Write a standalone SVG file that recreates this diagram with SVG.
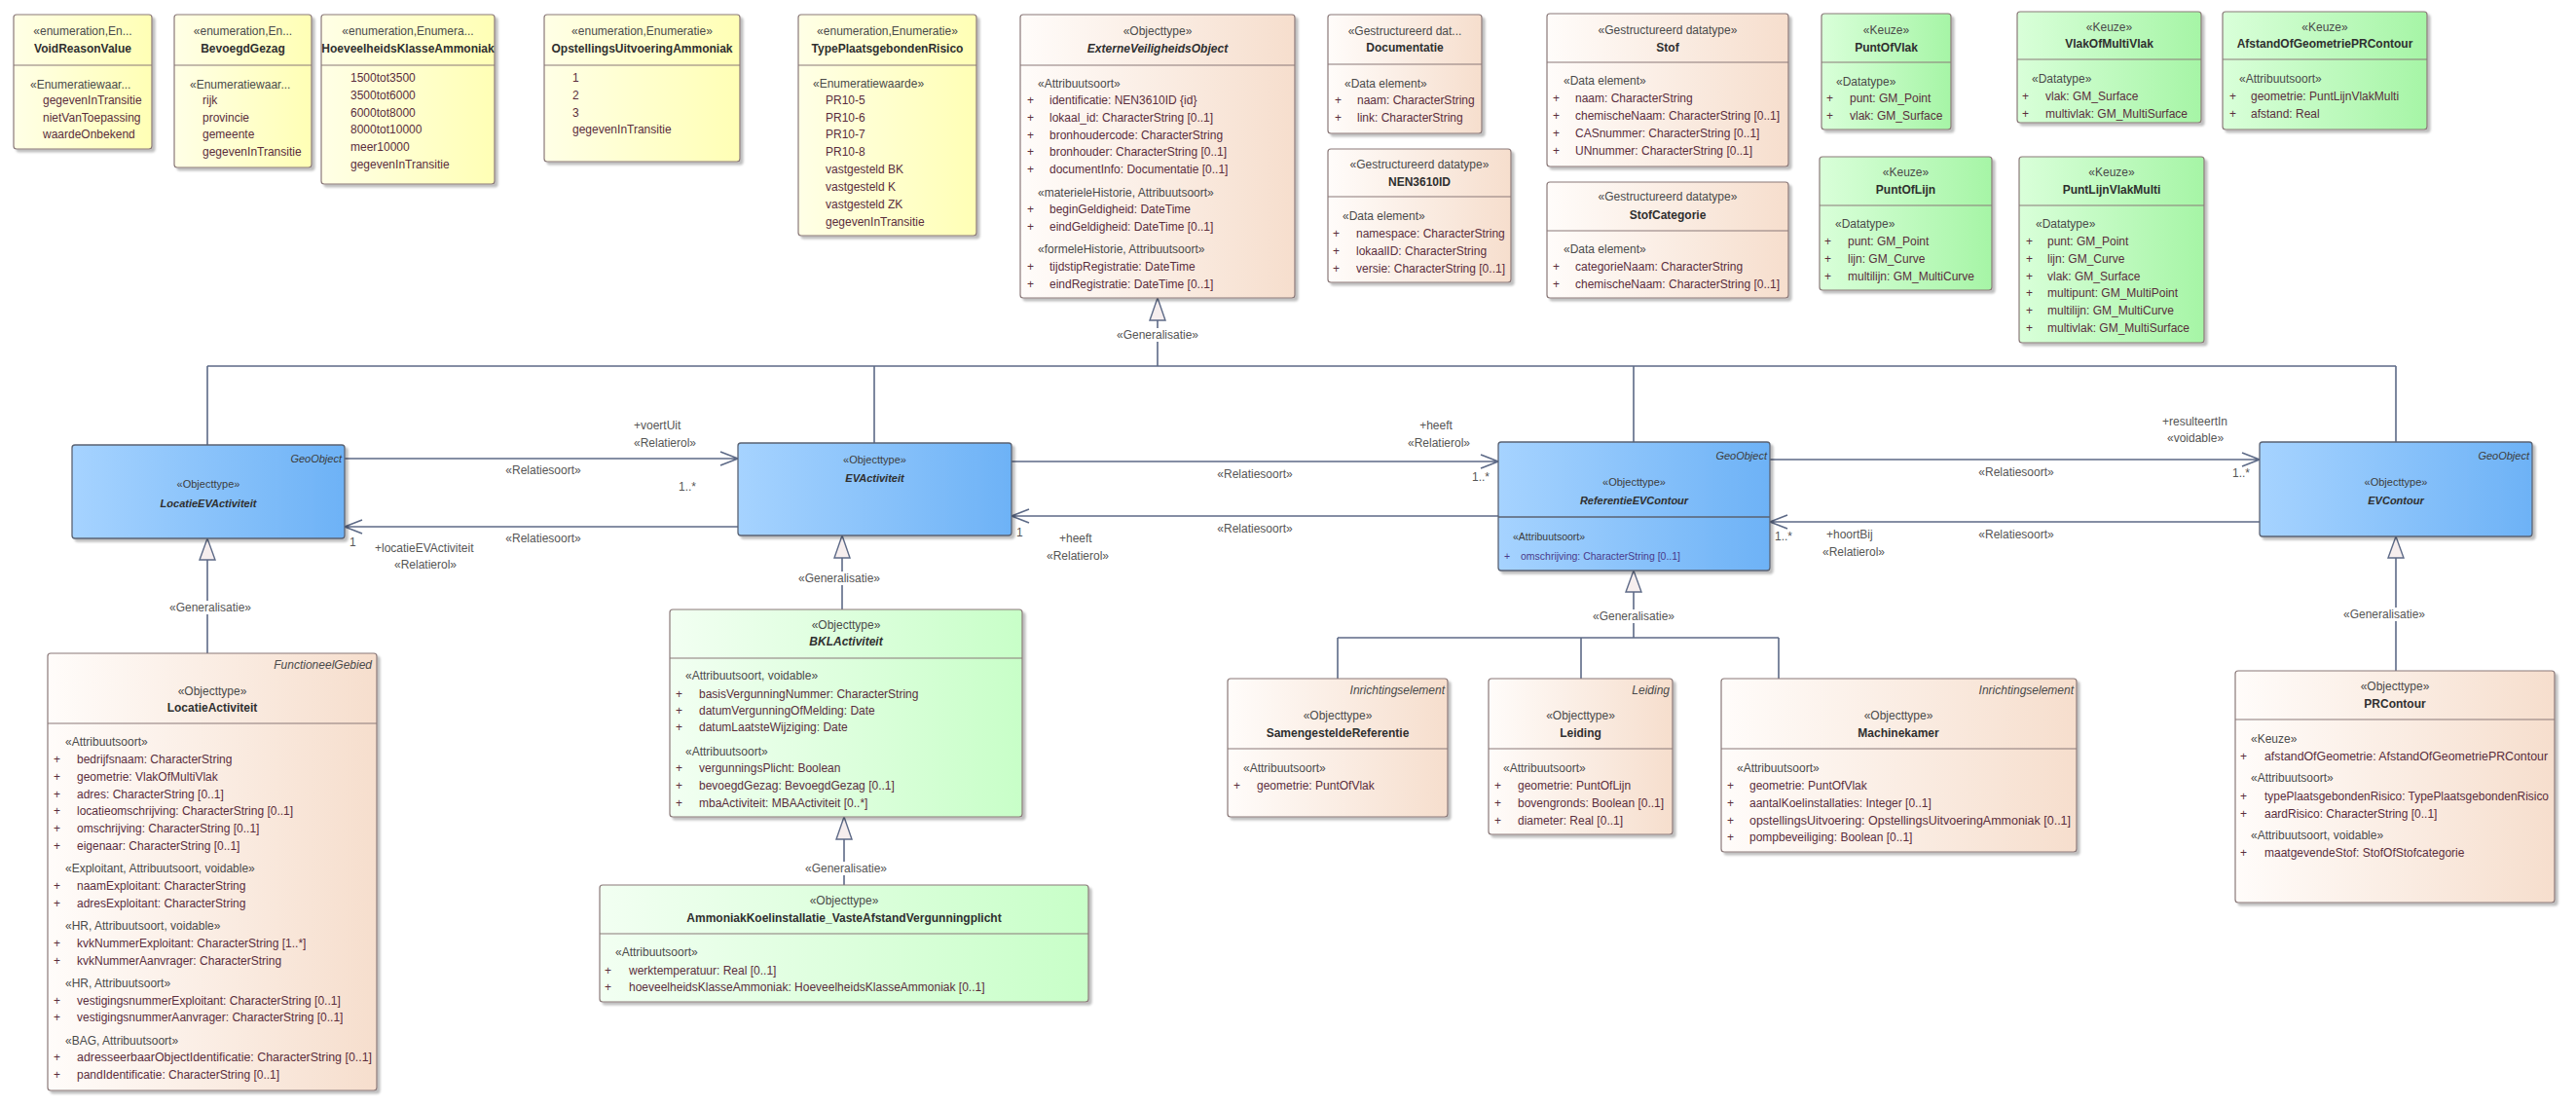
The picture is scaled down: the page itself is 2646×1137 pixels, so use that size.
<svg xmlns="http://www.w3.org/2000/svg" width="2646" height="1137" viewBox="0 0 2646 1137">
<defs>
<style>
text{font-family:'Liberation Sans',Arial,sans-serif;font-size:12px;fill:#3c3c3c}
.st{fill:#4a4a4a}
.nm{font-weight:bold;fill:#2f2f2f}
.it{font-style:italic}
.c{text-anchor:middle}
.r{text-anchor:end}
.at{fill:#5a2d3c}
.bs{font-size:11px}
.om{fill:#4a3a8a;font-size:10.5px}
.box{stroke:#8a7878;stroke-width:1.2;filter:url(#sh)}
.bbox{stroke:#5a6272;stroke-width:1.3;filter:url(#sh)}
.sep{stroke:#8a7878;stroke-width:1.2}
.bsep{stroke:#5a6272;stroke-width:1.3}
.ln{stroke:#5d6a87;stroke-width:1.6;fill:none}
.gt{fill:#f6eeee;stroke:#5d6a87;stroke-width:1.4}
.lb{font-size:12px;fill:#555}
.bg{fill:#fff}
</style>
<filter id="sh" x="-5%" y="-5%" width="115%" height="115%"><feDropShadow dx="3" dy="3" stdDeviation="1.2" flood-color="#000" flood-opacity="0.25"/></filter>
<linearGradient id="yl" x1="0" x2="1" y1="0" y2="0"><stop offset="0" stop-color="#FFFFE6"/><stop offset="1" stop-color="#FFFFB5"/></linearGradient>
<linearGradient id="pc" x1="0" x2="1" y1="0" y2="0"><stop offset="0" stop-color="#FFFCFA"/><stop offset="1" stop-color="#F6DECD"/></linearGradient>
<linearGradient id="gr" x1="0" x2="1" y1="0" y2="0"><stop offset="0" stop-color="#D9FFD9"/><stop offset="1" stop-color="#A6F5A6"/></linearGradient>
<linearGradient id="lg" x1="0" x2="1" y1="0" y2="0"><stop offset="0" stop-color="#F2FFF2"/><stop offset="1" stop-color="#C8FFC8"/></linearGradient>
<linearGradient id="bl" x1="0" x2="1" y1="0" y2="0"><stop offset="0" stop-color="#A6D3FF"/><stop offset="1" stop-color="#6DB2F6"/></linearGradient>
</defs>
<rect width="2646" height="1137" fill="#fff"/>

<g id="connectors">
<path class="ln" d="M213,376 H2461 M213,376 V457 M898,376 V455 M1678,376 V454 M2461,376 V454 M1189,329 V376"/>
<polygon class="gt" points="1189,306 1181,329 1197,329"/>
<rect class="bg" x="1145" y="337" width="88" height="14"/>
<text class="lb c" x="1189" y="348">«Generalisatie»</text>
<path class="ln" d="M213,575 V671"/>
<polygon class="gt" points="213,553 205,575 221,575"/>
<rect class="bg" x="172" y="617" width="88" height="14"/>
<text class="lb c" x="216" y="628">«Generalisatie»</text>
<path class="ln" d="M865,573 V626"/>
<polygon class="gt" points="865,550 857,573 873,573"/>
<rect class="bg" x="818" y="587" width="88" height="14"/>
<text class="lb c" x="862" y="598">«Generalisatie»</text>
<path class="ln" d="M867,862 V909"/>
<polygon class="gt" points="867,839 859,862 875,862"/>
<rect class="bg" x="825" y="885" width="88" height="14"/>
<text class="lb c" x="869" y="896">«Generalisatie»</text>
<path class="ln" d="M1678,608 V655 M1374,655 H1827 M1374,655 V697 M1624,655 V697 M1827,655 V697"/>
<polygon class="gt" points="1678,586 1670,608 1686,608"/>
<rect class="bg" x="1634" y="626" width="88" height="14"/>
<text class="lb c" x="1678" y="637">«Generalisatie»</text>
<path class="ln" d="M2461,573 V689"/>
<polygon class="gt" points="2461,551 2453,573 2469,573"/>
<rect class="bg" x="2405" y="624" width="88" height="14"/>
<text class="lb c" x="2449" y="635">«Generalisatie»</text>

<path class="ln" d="M354,471 H758 M740,464 L758,471 L740,478"/>
<text class="lb" x="651" y="441">+voertUit</text>
<text class="lb" x="651" y="459">«Relatierol»</text>
<text class="lb c" x="558" y="487">«Relatiesoort»</text>
<text class="lb" x="697" y="504">1..*</text>

<path class="ln" d="M758,541 H354 M372,534 L354,541 L372,548"/>
<text class="lb c" x="558" y="557">«Relatiesoort»</text>
<text class="lb" x="359" y="561">1</text>
<text class="lb" x="385" y="567">+locatieEVActiviteit</text>
<text class="lb c" x="437" y="584">«Relatierol»</text>

<path class="ln" d="M1039,474 H1539 M1521,467 L1539,474 L1521,481"/>
<text class="lb c" x="1475" y="441">+heeft</text>
<text class="lb c" x="1478" y="459">«Relatierol»</text>
<text class="lb c" x="1289" y="491">«Relatiesoort»</text>
<text class="lb" x="1512" y="494">1..*</text>

<path class="ln" d="M1539,530 H1039 M1057,523 L1039,530 L1057,537"/>
<text class="lb c" x="1289" y="547">«Relatiesoort»</text>
<text class="lb" x="1044" y="551">1</text>
<text class="lb" x="1088" y="557">+heeft</text>
<text class="lb c" x="1107" y="575">«Relatierol»</text>

<path class="ln" d="M1818,472 H2321 M2303,465 L2321,472 L2303,479"/>
<text class="lb" x="2221" y="437">+resulteertIn</text>
<text class="lb" x="2226" y="454">«voidable»</text>
<text class="lb c" x="2071" y="489">«Relatiesoort»</text>
<text class="lb" x="2293" y="490">1..*</text>

<path class="ln" d="M2321,536 H1818 M1836,529 L1818,536 L1836,543"/>
<text class="lb" x="1823" y="555">1..*</text>
<text class="lb" x="1876" y="553">+hoortBij</text>
<text class="lb c" x="1904" y="571">«Relatierol»</text>
<text class="lb c" x="2071" y="553">«Relatiesoort»</text>
</g>

<g id="VoidReasonValue">
<rect class="box" x="14" y="15" width="142" height="138" rx="3" fill="url(#yl)"/>
<line class="sep" x1="14" y1="67" x2="156" y2="67"/>
<text class="st c" x="85" y="36">«enumeration,En...</text>
<text class="nm c" x="85" y="54">VoidReasonValue</text>
<text class="st" x="31" y="91">«Enumeratiewaar...</text>
<text class="at" x="44" y="107">gegevenInTransitie</text>
<text class="at" x="44" y="125">nietVanToepassing</text>
<text class="at" x="44" y="142">waardeOnbekend</text>
</g>
<g id="BevoegdGezag">
<rect class="box" x="179" y="15" width="141" height="157" rx="3" fill="url(#yl)"/>
<line class="sep" x1="179" y1="67" x2="320" y2="67"/>
<text class="st c" x="249.5" y="36">«enumeration,En...</text>
<text class="nm c" x="249.5" y="54">BevoegdGezag</text>
<text class="st" x="195" y="91">«Enumeratiewaar...</text>
<text class="at" x="208" y="107">rijk</text>
<text class="at" x="208" y="125">provincie</text>
<text class="at" x="208" y="142">gemeente</text>
<text class="at" x="208" y="160">gegevenInTransitie</text>
</g>
<g id="HoeveelheidsKlasseAmmoniak">
<rect class="box" x="330" y="15" width="178" height="174" rx="3" fill="url(#yl)"/>
<line class="sep" x1="330" y1="67" x2="508" y2="67"/>
<text class="st c" x="419" y="36">«enumeration,Enumera...</text>
<text class="nm c" x="419" y="54">HoeveelheidsKlasseAmmoniak</text>
<text class="at" x="360" y="84">1500tot3500</text>
<text class="at" x="360" y="102">3500tot6000</text>
<text class="at" x="360" y="120">6000tot8000</text>
<text class="at" x="360" y="137">8000tot10000</text>
<text class="at" x="360" y="155">meer10000</text>
<text class="at" x="360" y="173">gegevenInTransitie</text>
</g>
<g id="OpstellingsUitvoeringAmmoniak">
<rect class="box" x="559" y="15" width="201" height="151" rx="3" fill="url(#yl)"/>
<line class="sep" x1="559" y1="67" x2="760" y2="67"/>
<text class="st c" x="659.5" y="36">«enumeration,Enumeratie»</text>
<text class="nm c" x="659.5" y="54">OpstellingsUitvoeringAmmoniak</text>
<text class="at" x="588" y="84">1</text>
<text class="at" x="588" y="102">2</text>
<text class="at" x="588" y="120">3</text>
<text class="at" x="588" y="137">gegevenInTransitie</text>
</g>
<g id="TypePlaatsgebondenRisico">
<rect class="box" x="820" y="15" width="183" height="227" rx="3" fill="url(#yl)"/>
<line class="sep" x1="820" y1="67" x2="1003" y2="67"/>
<text class="st c" x="911.5" y="36">«enumeration,Enumeratie»</text>
<text class="nm c" x="911.5" y="54">TypePlaatsgebondenRisico</text>
<text class="st" x="835" y="90">«Enumeratiewaarde»</text>
<text class="at" x="848" y="107">PR10-5</text>
<text class="at" x="848" y="125">PR10-6</text>
<text class="at" x="848" y="142">PR10-7</text>
<text class="at" x="848" y="160">PR10-8</text>
<text class="at" x="848" y="178">vastgesteld BK</text>
<text class="at" x="848" y="196">vastgesteld K</text>
<text class="at" x="848" y="214">vastgesteld ZK</text>
<text class="at" x="848" y="232">gegevenInTransitie</text>
</g>

<g id="ExterneVeiligheidsObject">
<rect class="box" x="1048" y="15" width="282" height="291" rx="3" fill="url(#pc)"/>
<line class="sep" x1="1048" y1="67" x2="1330" y2="67"/>
<text class="st c" x="1189" y="36">«Objecttype»</text>
<text class="nm it c" x="1189" y="54">ExterneVeiligheidsObject</text>
<text class="st" x="1066" y="90">«Attribuutsoort»</text>
<text class="at" x="1055" y="107">+</text><text class="at" x="1078" y="107">identificatie: NEN3610ID {id}</text>
<text class="at" x="1055" y="125">+</text><text class="at" x="1078" y="125">lokaal_id: CharacterString [0..1]</text>
<text class="at" x="1055" y="143">+</text><text class="at" x="1078" y="143">bronhoudercode: CharacterString</text>
<text class="at" x="1055" y="160">+</text><text class="at" x="1078" y="160">bronhouder: CharacterString [0..1]</text>
<text class="at" x="1055" y="178">+</text><text class="at" x="1078" y="178">documentInfo: Documentatie [0..1]</text>
<text class="st" x="1066" y="202">«materieleHistorie, Attribuutsoort»</text>
<text class="at" x="1055" y="219">+</text><text class="at" x="1078" y="219">beginGeldigheid: DateTime</text>
<text class="at" x="1055" y="237">+</text><text class="at" x="1078" y="237">eindGeldigheid: DateTime [0..1]</text>
<text class="st" x="1066" y="260">«formeleHistorie, Attribuutsoort»</text>
<text class="at" x="1055" y="278">+</text><text class="at" x="1078" y="278">tijdstipRegistratie: DateTime</text>
<text class="at" x="1055" y="296">+</text><text class="at" x="1078" y="296">eindRegistratie: DateTime [0..1]</text>
</g>

<g id="Documentatie">
<rect class="box" x="1364" y="15" width="158" height="122" rx="3" fill="url(#pc)"/>
<line class="sep" x1="1364" y1="66" x2="1522" y2="66"/>
<text class="st c" x="1443" y="36">«Gestructureerd dat...</text>
<text class="nm c" x="1443" y="53">Documentatie</text>
<text class="st" x="1381" y="90">«Data element»</text>
<text class="at" x="1371" y="107">+</text><text class="at" x="1394" y="107">naam: CharacterString</text>
<text class="at" x="1371" y="125">+</text><text class="at" x="1394" y="125">link: CharacterString</text>
</g>
<g id="NEN3610ID">
<rect class="box" x="1364" y="153" width="188" height="137" rx="3" fill="url(#pc)"/>
<line class="sep" x1="1364" y1="202" x2="1552" y2="202"/>
<text class="st c" x="1458" y="173">«Gestructureerd datatype»</text>
<text class="nm c" x="1458" y="191">NEN3610ID</text>
<text class="st" x="1379" y="226">«Data element»</text>
<text class="at" x="1369" y="244">+</text><text class="at" x="1393" y="244">namespace: CharacterString</text>
<text class="at" x="1369" y="262">+</text><text class="at" x="1393" y="262">lokaalID: CharacterString</text>
<text class="at" x="1369" y="280">+</text><text class="at" x="1393" y="280" textLength="153" lengthAdjust="spacingAndGlyphs">versie: CharacterString [0..1]</text>
</g>
<g id="Stof">
<rect class="box" x="1589" y="14" width="248" height="157" rx="3" fill="url(#pc)"/>
<line class="sep" x1="1589" y1="64" x2="1837" y2="64"/>
<text class="st c" x="1713" y="35">«Gestructureerd datatype»</text>
<text class="nm c" x="1713" y="53">Stof</text>
<text class="st" x="1606" y="87">«Data element»</text>
<text class="at" x="1595" y="105">+</text><text class="at" x="1618" y="105">naam: CharacterString</text>
<text class="at" x="1595" y="123">+</text><text class="at" x="1618" y="123">chemischeNaam: CharacterString [0..1]</text>
<text class="at" x="1595" y="141">+</text><text class="at" x="1618" y="141">CASnummer: CharacterString [0..1]</text>
<text class="at" x="1595" y="159">+</text><text class="at" x="1618" y="159">UNnummer: CharacterString [0..1]</text>
</g>
<g id="StofCategorie">
<rect class="box" x="1589" y="187" width="248" height="119" rx="3" fill="url(#pc)"/>
<line class="sep" x1="1589" y1="237" x2="1837" y2="237"/>
<text class="st c" x="1713" y="206">«Gestructureerd datatype»</text>
<text class="nm c" x="1713" y="225">StofCategorie</text>
<text class="st" x="1606" y="260">«Data element»</text>
<text class="at" x="1595" y="278">+</text><text class="at" x="1618" y="278">categorieNaam: CharacterString</text>
<text class="at" x="1595" y="296">+</text><text class="at" x="1618" y="296">chemischeNaam: CharacterString [0..1]</text>
</g>

<g id="PuntOfVlak">
<rect class="box" x="1871" y="14" width="133" height="119" rx="3" fill="url(#gr)"/>
<line class="sep" x1="1871" y1="64" x2="2004" y2="64"/>
<text class="st c" x="1937.5" y="35">«Keuze»</text>
<text class="nm c" x="1937.5" y="53">PuntOfVlak</text>
<text class="st" x="1886" y="88">«Datatype»</text>
<text class="at" x="1876" y="105">+</text><text class="at" x="1900" y="105">punt: GM_Point</text>
<text class="at" x="1876" y="123">+</text><text class="at" x="1900" y="123">vlak: GM_Surface</text>
</g>
<g id="VlakOfMultiVlak">
<rect class="box" x="2072" y="12" width="189" height="114" rx="3" fill="url(#gr)"/>
<line class="sep" x1="2072" y1="61" x2="2261" y2="61"/>
<text class="st c" x="2166.5" y="32">«Keuze»</text>
<text class="nm c" x="2166.5" y="49">VlakOfMultiVlak</text>
<text class="st" x="2087" y="85">«Datatype»</text>
<text class="at" x="2077" y="103">+</text><text class="at" x="2101" y="103">vlak: GM_Surface</text>
<text class="at" x="2077" y="121">+</text><text class="at" x="2101" y="121">multivlak: GM_MultiSurface</text>
</g>
<g id="AfstandOfGeometriePRContour">
<rect class="box" x="2283" y="12" width="210" height="121" rx="3" fill="url(#gr)"/>
<line class="sep" x1="2283" y1="61" x2="2493" y2="61"/>
<text class="st c" x="2388" y="32">«Keuze»</text>
<text class="nm c" x="2388" y="49">AfstandOfGeometriePRContour</text>
<text class="st" x="2300" y="85">«Attribuutsoort»</text>
<text class="at" x="2290" y="103">+</text><text class="at" x="2312" y="103">geometrie: PuntLijnVlakMulti</text>
<text class="at" x="2290" y="121">+</text><text class="at" x="2312" y="121">afstand: Real</text>
</g>
<g id="PuntOfLijn">
<rect class="box" x="1869" y="161" width="177" height="137" rx="3" fill="url(#gr)"/>
<line class="sep" x1="1869" y1="211" x2="2046" y2="211"/>
<text class="st c" x="1957.5" y="181">«Keuze»</text>
<text class="nm c" x="1957.5" y="199">PuntOfLijn</text>
<text class="st" x="1885" y="234">«Datatype»</text>
<text class="at" x="1874" y="252">+</text><text class="at" x="1898" y="252">punt: GM_Point</text>
<text class="at" x="1874" y="270">+</text><text class="at" x="1898" y="270">lijn: GM_Curve</text>
<text class="at" x="1874" y="288">+</text><text class="at" x="1898" y="288">multilijn: GM_MultiCurve</text>
</g>
<g id="PuntLijnVlakMulti">
<rect class="box" x="2074" y="161" width="190" height="191" rx="3" fill="url(#gr)"/>
<line class="sep" x1="2074" y1="211" x2="2264" y2="211"/>
<text class="st c" x="2169" y="181">«Keuze»</text>
<text class="nm c" x="2169" y="199">PuntLijnVlakMulti</text>
<text class="st" x="2091" y="234">«Datatype»</text>
<text class="at" x="2081" y="252">+</text><text class="at" x="2103" y="252">punt: GM_Point</text>
<text class="at" x="2081" y="270">+</text><text class="at" x="2103" y="270">lijn: GM_Curve</text>
<text class="at" x="2081" y="288">+</text><text class="at" x="2103" y="288">vlak: GM_Surface</text>
<text class="at" x="2081" y="305">+</text><text class="at" x="2103" y="305">multipunt: GM_MultiPoint</text>
<text class="at" x="2081" y="323">+</text><text class="at" x="2103" y="323">multilijn: GM_MultiCurve</text>
<text class="at" x="2081" y="341">+</text><text class="at" x="2103" y="341">multivlak: GM_MultiSurface</text>
</g>

<g id="LocatieEVActiviteit">
<rect class="bbox" x="74" y="457" width="280" height="96" rx="3" fill="url(#bl)"/>
<text class="bs it r" x="351" y="475">GeoObject</text>
<text class="bs c" x="214" y="501">«Objecttype»</text>
<text class="bs nm it c" x="214" y="521">LocatieEVActiviteit</text>
</g>
<g id="EVActiviteit">
<rect class="bbox" x="758" y="455" width="281" height="95" rx="3" fill="url(#bl)"/>
<text class="bs c" x="898.5" y="476">«Objecttype»</text>
<text class="bs nm it c" x="898.5" y="495">EVActiviteit</text>
</g>
<g id="ReferentieEVContour">
<rect class="bbox" x="1539" y="454" width="279" height="132" rx="3" fill="url(#bl)"/>
<line class="bsep" x1="1539" y1="531" x2="1818" y2="531"/>
<text class="bs it r" x="1815" y="472">GeoObject</text>
<text class="bs c" x="1678.5" y="499">«Objecttype»</text>
<text class="bs nm it c" x="1678.5" y="518">ReferentieEVContour</text>
<text class="bs" x="1554" y="555" style="font-size:10.5px">«Attribuutsoort»</text>
<text class="om" x="1545" y="575">+</text><text class="om" x="1562" y="575">omschrijving: CharacterString [0..1]</text>
</g>
<g id="EVContour">
<rect class="bbox" x="2321" y="454" width="280" height="97" rx="3" fill="url(#bl)"/>
<text class="bs it r" x="2598" y="472">GeoObject</text>
<text class="bs c" x="2461" y="499">«Objecttype»</text>
<text class="bs nm it c" x="2461" y="518">EVContour</text>
</g>

<g id="LocatieActiviteit">
<rect class="box" x="49" y="671" width="338" height="449" rx="3" fill="url(#pc)"/>
<line class="sep" x1="49" y1="743" x2="387" y2="743"/>
<text class="st it r" x="382" y="687">FunctioneelGebied</text>
<text class="st c" x="218" y="714">«Objecttype»</text>
<text class="nm c" x="218" y="731">LocatieActiviteit</text>
<text class="st" x="67" y="766">«Attribuutsoort»</text>
<text class="at" x="55" y="784">+</text><text class="at" x="79" y="784">bedrijfsnaam: CharacterString</text>
<text class="at" x="55" y="802">+</text><text class="at" x="79" y="802">geometrie: VlakOfMultiVlak</text>
<text class="at" x="55" y="820">+</text><text class="at" x="79" y="820">adres: CharacterString [0..1]</text>
<text class="at" x="55" y="837">+</text><text class="at" x="79" y="837">locatieomschrijving: CharacterString [0..1]</text>
<text class="at" x="55" y="855">+</text><text class="at" x="79" y="855">omschrijving: CharacterString [0..1]</text>
<text class="at" x="55" y="873">+</text><text class="at" x="79" y="873">eigenaar: CharacterString [0..1]</text>
<text class="st" x="67" y="896">«Exploitant, Attribuutsoort, voidable»</text>
<text class="at" x="55" y="914">+</text><text class="at" x="79" y="914">naamExploitant: CharacterString</text>
<text class="at" x="55" y="932">+</text><text class="at" x="79" y="932">adresExploitant: CharacterString</text>
<text class="st" x="67" y="955">«HR, Attribuutsoort, voidable»</text>
<text class="at" x="55" y="973">+</text><text class="at" x="79" y="973">kvkNummerExploitant: CharacterString [1..*]</text>
<text class="at" x="55" y="991">+</text><text class="at" x="79" y="991">kvkNummerAanvrager: CharacterString</text>
<text class="st" x="67" y="1014">«HR, Attribuutsoort»</text>
<text class="at" x="55" y="1032">+</text><text class="at" x="79" y="1032">vestigingsnummerExploitant: CharacterString [0..1]</text>
<text class="at" x="55" y="1049">+</text><text class="at" x="79" y="1049">vestigingsnummerAanvrager: CharacterString [0..1]</text>
<text class="st" x="67" y="1073">«BAG, Attribuutsoort»</text>
<text class="at" x="55" y="1090">+</text><text class="at" x="79" y="1090" textLength="303" lengthAdjust="spacingAndGlyphs">adresseerbaarObjectIdentificatie: CharacterString [0..1]</text>
<text class="at" x="55" y="1108">+</text><text class="at" x="79" y="1108">pandIdentificatie: CharacterString [0..1]</text>
</g>

<g id="BKLActiviteit">
<rect class="box" x="688" y="626" width="362" height="213" rx="3" fill="url(#lg)"/>
<line class="sep" x1="688" y1="676" x2="1050" y2="676"/>
<text class="st c" x="869" y="646">«Objecttype»</text>
<text class="nm it c" x="869" y="663">BKLActiviteit</text>
<text class="st" x="704" y="698">«Attribuutsoort, voidable»</text>
<text class="at" x="694" y="717">+</text><text class="at" x="718" y="717">basisVergunningNummer: CharacterString</text>
<text class="at" x="694" y="734">+</text><text class="at" x="718" y="734">datumVergunningOfMelding: Date</text>
<text class="at" x="694" y="751">+</text><text class="at" x="718" y="751">datumLaatsteWijziging: Date</text>
<text class="st" x="704" y="776">«Attribuutsoort»</text>
<text class="at" x="694" y="793">+</text><text class="at" x="718" y="793">vergunningsPlicht: Boolean</text>
<text class="at" x="694" y="811">+</text><text class="at" x="718" y="811">bevoegdGezag: BevoegdGezag [0..1]</text>
<text class="at" x="694" y="829">+</text><text class="at" x="718" y="829">mbaActiviteit: MBAActiviteit [0..*]</text>
</g>
<g id="AmmoniakKoelinstallatie">
<rect class="box" x="616" y="909" width="502" height="120" rx="3" fill="url(#lg)"/>
<line class="sep" x1="616" y1="959" x2="1118" y2="959"/>
<text class="st c" x="867" y="929">«Objecttype»</text>
<text class="nm c" x="867" y="947">AmmoniakKoelinstallatie_VasteAfstandVergunningplicht</text>
<text class="st" x="632" y="982">«Attribuutsoort»</text>
<text class="at" x="621" y="1001">+</text><text class="at" x="646" y="1001">werktemperatuur: Real [0..1]</text>
<text class="at" x="621" y="1018">+</text><text class="at" x="646" y="1018">hoeveelheidsKlasseAmmoniak: HoeveelheidsKlasseAmmoniak [0..1]</text>
</g>

<g id="SamengesteldeReferentie">
<rect class="box" x="1261" y="697" width="226" height="142" rx="3" fill="url(#pc)"/>
<line class="sep" x1="1261" y1="769" x2="1487" y2="769"/>
<text class="st it r" x="1484" y="713">Inrichtingselement</text>
<text class="st c" x="1374" y="739">«Objecttype»</text>
<text class="nm c" x="1374" y="757">SamengesteldeReferentie</text>
<text class="st" x="1277" y="793">«Attribuutsoort»</text>
<text class="at" x="1267" y="811">+</text><text class="at" x="1291" y="811">geometrie: PuntOfVlak</text>
</g>
<g id="Leiding">
<rect class="box" x="1529" y="697" width="189" height="160" rx="3" fill="url(#pc)"/>
<line class="sep" x1="1529" y1="769" x2="1718" y2="769"/>
<text class="st it r" x="1715" y="713">Leiding</text>
<text class="st c" x="1623.5" y="739">«Objecttype»</text>
<text class="nm c" x="1623.5" y="757">Leiding</text>
<text class="st" x="1544" y="793">«Attribuutsoort»</text>
<text class="at" x="1535" y="811">+</text><text class="at" x="1559" y="811">geometrie: PuntOfLijn</text>
<text class="at" x="1535" y="829">+</text><text class="at" x="1559" y="829">bovengronds: Boolean [0..1]</text>
<text class="at" x="1535" y="847">+</text><text class="at" x="1559" y="847">diameter: Real [0..1]</text>
</g>
<g id="Machinekamer">
<rect class="box" x="1768" y="697" width="365" height="178" rx="3" fill="url(#pc)"/>
<line class="sep" x1="1768" y1="769" x2="2133" y2="769"/>
<text class="st it r" x="2130" y="713">Inrichtingselement</text>
<text class="st c" x="1950" y="739">«Objecttype»</text>
<text class="nm c" x="1950" y="757">Machinekamer</text>
<text class="st" x="1784" y="793">«Attribuutsoort»</text>
<text class="at" x="1774" y="811">+</text><text class="at" x="1797" y="811">geometrie: PuntOfVlak</text>
<text class="at" x="1774" y="829">+</text><text class="at" x="1797" y="829">aantalKoelinstallaties: Integer [0..1]</text>
<text class="at" x="1774" y="847">+</text><text class="at" x="1797" y="847" textLength="330" lengthAdjust="spacingAndGlyphs">opstellingsUitvoering: OpstellingsUitvoeringAmmoniak [0..1]</text>
<text class="at" x="1774" y="864">+</text><text class="at" x="1797" y="864">pompbeveiliging: Boolean [0..1]</text>
</g>

<g id="PRContour">
<rect class="box" x="2296" y="689" width="328" height="238" rx="3" fill="url(#pc)"/>
<line class="sep" x1="2296" y1="739" x2="2624" y2="739"/>
<text class="st c" x="2460" y="709">«Objecttype»</text>
<text class="nm c" x="2460" y="727">PRContour</text>
<text class="st" x="2312" y="763">«Keuze»</text>
<text class="at" x="2301" y="781">+</text><text class="at" x="2326" y="781" textLength="291" lengthAdjust="spacingAndGlyphs">afstandOfGeometrie: AfstandOfGeometriePRContour</text>
<text class="st" x="2312" y="803">«Attribuutsoort»</text>
<text class="at" x="2301" y="822">+</text><text class="at" x="2326" y="822" textLength="292" lengthAdjust="spacingAndGlyphs">typePlaatsgebondenRisico: TypePlaatsgebondenRisico</text>
<text class="at" x="2301" y="840">+</text><text class="at" x="2326" y="840">aardRisico: CharacterString [0..1]</text>
<text class="st" x="2312" y="862">«Attribuutsoort, voidable»</text>
<text class="at" x="2301" y="880">+</text><text class="at" x="2326" y="880">maatgevendeStof: StofOfStofcategorie</text>
</g>
</svg>
